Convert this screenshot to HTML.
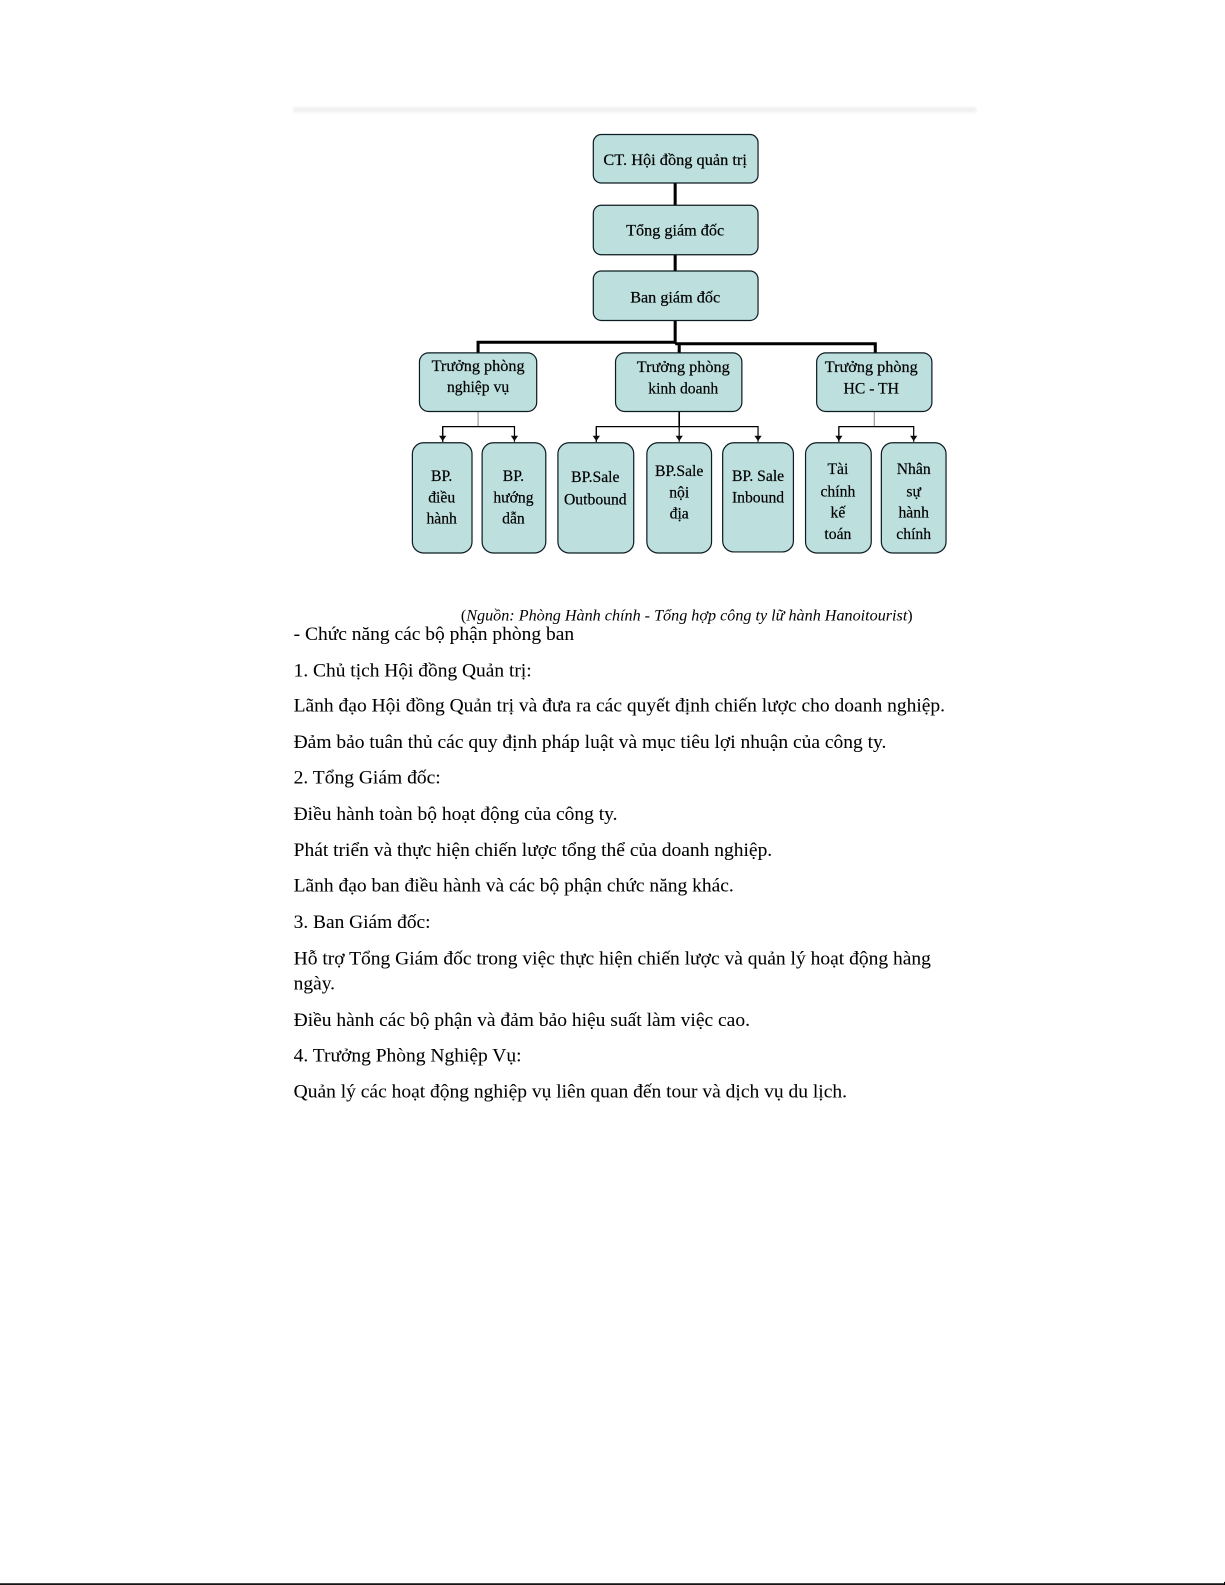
<!DOCTYPE html>
<html lang="vi"><head><meta charset="utf-8"><title>Sơ đồ tổ chức</title>
<style>
html,body{margin:0;padding:0;background:#fff;width:1225px;height:1585px;overflow:hidden}
svg{display:block}
text{font-family:"Liberation Serif","Noto Serif CJK SC",serif;fill:#000}
.b{fill:#bde0df;stroke:#0c1a20;stroke-width:1.2}
.t{font-size:15.5px;text-anchor:middle;stroke:#000;stroke-width:.2}
.p{font-size:19px;fill:#000;stroke:#000;stroke-width:.05}
</style></head><body>
<svg width="1225" height="1585" viewBox="0 0 1212 1568" xmlns="http://www.w3.org/2000/svg">
<defs><filter id="s" x="-2%" y="-2%" width="104%" height="104%"><feGaussianBlur stdDeviation="0.3"/></filter>
<filter id="w" x="-2%" y="-100%" width="104%" height="300%"><feGaussianBlur stdDeviation="1.2"/></filter>
<marker id="a" markerWidth="6" markerHeight="7" refX="5" refY="3" orient="auto"><path d="M0 0L4.5 3L0 6z" fill="#111"/></marker></defs>
<rect x="290" y="106" width="676" height="5" fill="#f0f0f0" filter="url(#w)"/>
<g filter="url(#s)">
<g fill="none" stroke="#000">
<path d="M668 181V203M668 252V268M668 317V340" stroke-width="3"/>
<path d="M473 349V338.5H668" stroke-width="3"/>
<path d="M668 340H866V349M672 340V349" stroke-width="3"/>
<path d="M473 407V422M865 407V422" stroke="#888" stroke-width="1"/>
<path d="M672 407V422" stroke-width="1.6"/>
<path d="M438 437V422H509V437" stroke-width="1.2" marker-end="url(#a)"/>
<path d="M438 422V437" stroke-width="1.2" marker-end="url(#a)"/>
<path d="M590 437V422H750V437" stroke-width="1.2" marker-end="url(#a)"/>
<path d="M590 422V437" stroke-width="1.2" marker-end="url(#a)"/>
<path d="M672 422V437" stroke-width="1.2" marker-end="url(#a)"/>
<path d="M830 437V422H904V437" stroke-width="1.2" marker-end="url(#a)"/>
<path d="M830 422V437" stroke-width="1.2" marker-end="url(#a)"/>
</g>
<rect class="b" x="587" y="133" width="163" height="48" rx="8"/>
<rect class="b" x="587" y="203" width="163" height="49" rx="8"/>
<rect class="b" x="587" y="268" width="163" height="49" rx="8"/>
<rect class="b" x="415" y="349" width="116" height="58" rx="9"/>
<rect class="b" x="609" y="349" width="125" height="58" rx="9"/>
<rect class="b" x="808" y="349" width="114" height="58" rx="9"/>
<rect class="b" x="408" y="438" width="59" height="109" rx="11"/>
<rect class="b" x="477" y="438" width="63" height="109" rx="11"/>
<rect class="b" x="552" y="438" width="75" height="109" rx="11"/>
<rect class="b" x="640" y="438" width="64" height="109" rx="11"/>
<rect class="b" x="715" y="438" width="70" height="108" rx="11"/>
<rect class="b" x="797" y="438" width="65" height="109" rx="11"/>
<rect class="b" x="872" y="438" width="64" height="109" rx="11"/>
<text class="t" x="668" y="163" textLength="142" lengthAdjust="spacingAndGlyphs">CT. Hội đồng quản trị</text>
<text class="t" x="668" y="233" textLength="97" lengthAdjust="spacingAndGlyphs">Tổng giám đốc</text>
<text class="t" x="668" y="299" textLength="89" lengthAdjust="spacingAndGlyphs">Ban giám đốc</text>
<text class="t" x="473" y="367" textLength="92" lengthAdjust="spacingAndGlyphs">Trưởng phòng</text>
<text class="t" x="473" y="388">nghiệp vụ</text>
<text class="t" x="676" y="368" textLength="92" lengthAdjust="spacingAndGlyphs">Trưởng phòng</text>
<text class="t" x="676" y="389">kinh doanh</text>
<text class="t" x="862" y="368" textLength="92" lengthAdjust="spacingAndGlyphs">Trưởng phòng</text>
<text class="t" x="862" y="389">HC - TH</text>
<text class="t" x="437" y="476">BP.</text><text class="t" x="437" y="497">điều</text><text class="t" x="437" y="518">hành</text>
<text class="t" x="508" y="476">BP.</text><text class="t" x="508" y="497">hướng</text><text class="t" x="508" y="518">dẫn</text>
<text class="t" x="589" y="477">BP.Sale</text><text class="t" x="589" y="499">Outbound</text>
<text class="t" x="672" y="471">BP.Sale</text><text class="t" x="672" y="492">nội</text><text class="t" x="672" y="513">địa</text>
<text class="t" x="750" y="476">BP. Sale</text><text class="t" x="750" y="497">Inbound</text>
<text class="t" x="829" y="469">Tài</text><text class="t" x="829" y="491">chính</text><text class="t" x="829" y="512">kế</text><text class="t" x="829" y="533">toán</text>
<text class="t" x="904" y="469">Nhân</text><text class="t" x="904" y="491">sự</text><text class="t" x="904" y="512">hành</text><text class="t" x="904" y="533">chính</text>
<text x="456" y="614" font-size="15.5" textLength="447" lengthAdjust="spacingAndGlyphs">(<tspan font-style="italic">Nguồn: Phòng Hành chính - Tổng hợp công ty lữ hành Hanoitourist</tspan>)</text>
<text class="p" x="290.5" y="633" textLength="277.5" lengthAdjust="spacingAndGlyphs">- Chức năng các bộ phận phòng ban</text>
<text class="p" x="290.5" y="669" textLength="235.5" lengthAdjust="spacingAndGlyphs">1. Chủ tịch Hội đồng Quản trị:</text>
<text class="p" x="290.5" y="704" textLength="644.5" lengthAdjust="spacingAndGlyphs">Lãnh đạo Hội đồng Quản trị và đưa ra các quyết định chiến lược cho doanh nghiệp.</text>
<text class="p" x="290.5" y="740" textLength="586.5" lengthAdjust="spacingAndGlyphs">Đảm bảo tuân thủ các quy định pháp luật và mục tiêu lợi nhuận của công ty.</text>
<text class="p" x="290.5" y="775" textLength="145.5" lengthAdjust="spacingAndGlyphs">2. Tổng Giám đốc:</text>
<text class="p" x="290.5" y="811" textLength="320.5" lengthAdjust="spacingAndGlyphs">Điều hành toàn bộ hoạt động của công ty.</text>
<text class="p" x="290.5" y="847" textLength="473.5" lengthAdjust="spacingAndGlyphs">Phát triển và thực hiện chiến lược tổng thể của doanh nghiệp.</text>
<text class="p" x="290.5" y="882" textLength="435.5" lengthAdjust="spacingAndGlyphs">Lãnh đạo ban điều hành và các bộ phận chức năng khác.</text>
<text class="p" x="290.5" y="918" textLength="135.5" lengthAdjust="spacingAndGlyphs">3. Ban Giám đốc:</text>
<text class="p" x="290.5" y="954" textLength="630.5" lengthAdjust="spacingAndGlyphs">Hỗ trợ Tổng Giám đốc trong việc thực hiện chiến lược và quản lý hoạt động hàng</text>
<text class="p" x="290.5" y="979" textLength="41" lengthAdjust="spacingAndGlyphs">ngày.</text>
<text class="p" x="290.5" y="1015" textLength="451.5" lengthAdjust="spacingAndGlyphs">Điều hành các bộ phận và đảm bảo hiệu suất làm việc cao.</text>
<text class="p" x="290.5" y="1050" textLength="225.5" lengthAdjust="spacingAndGlyphs">4. Trưởng Phòng Nghiệp Vụ:</text>
<text class="p" x="290.5" y="1086" textLength="547.5" lengthAdjust="spacingAndGlyphs">Quản lý các hoạt động nghiệp vụ liên quan đến tour và dịch vụ du lịch.</text>
</g>
<rect x="0" y="1566.4" width="1212" height="1.6" fill="#000"/>
<rect x="1211" y="1565" width="1" height="3" fill="#000"/>
</svg>
</body></html>
